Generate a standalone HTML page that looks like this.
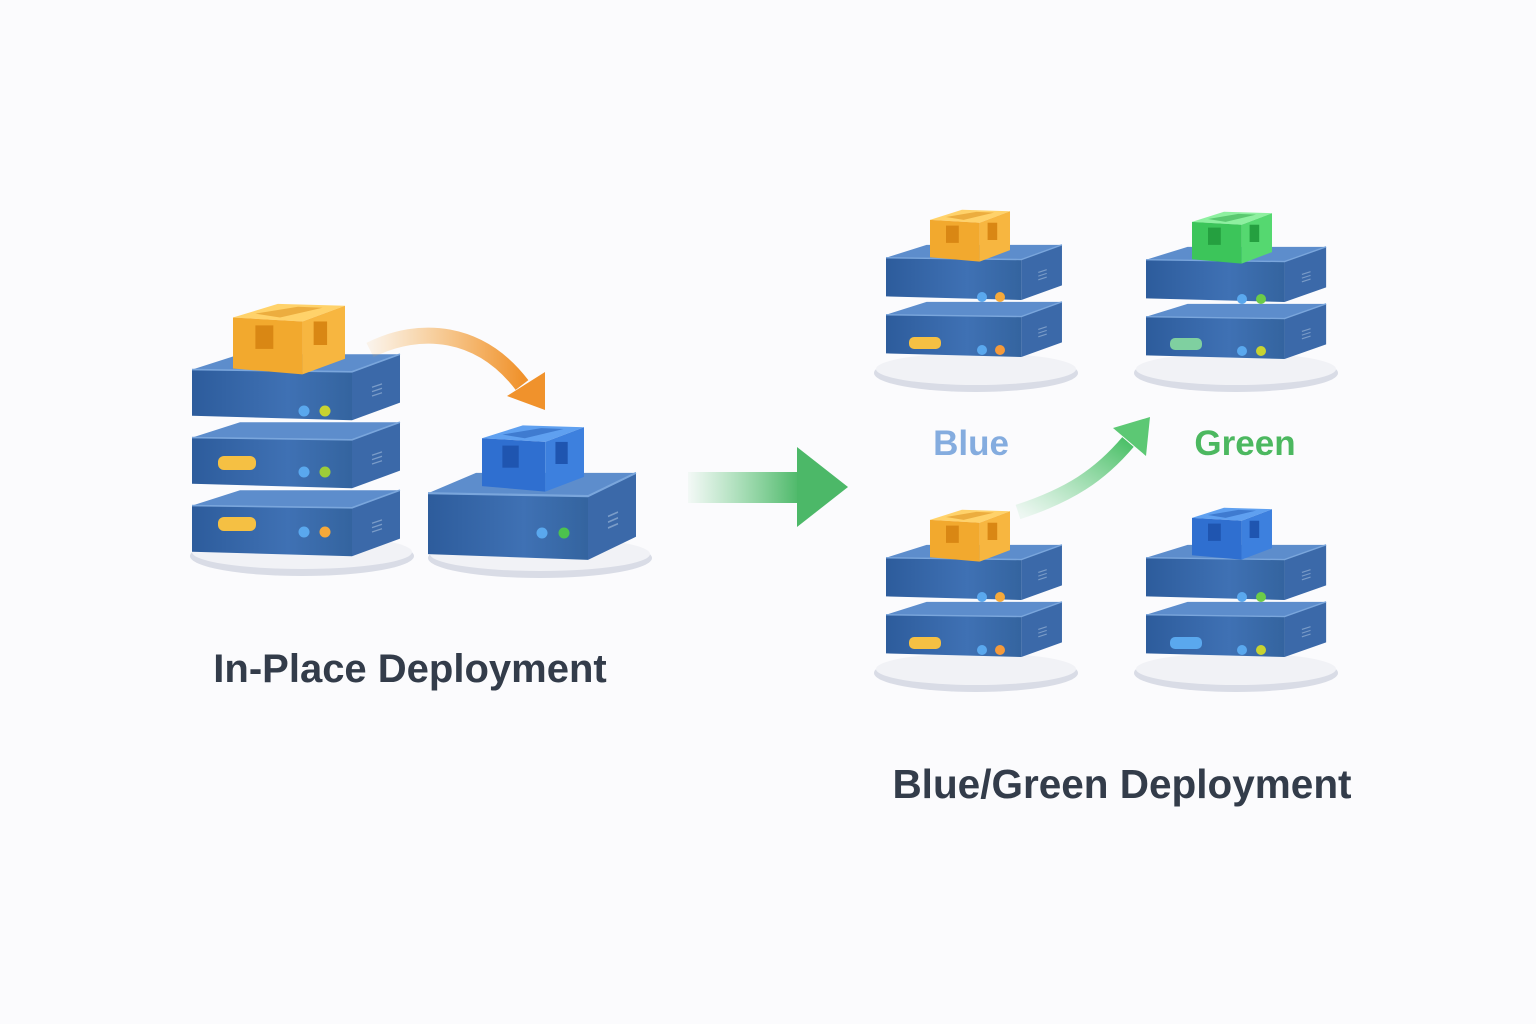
<!DOCTYPE html>
<html><head><meta charset="utf-8"><style>
html,body{margin:0;padding:0;background:#fbfbfd;}
svg{display:block}
text{font-family:"Liberation Sans","DejaVu Sans",sans-serif;font-weight:bold;}
.bt{fill:var(--t)}.bf{fill:var(--f)}.bs{fill:var(--s)}.bd{fill:var(--d)}
.or{--t:#ffd26a;--f:#f2a92e;--s:#f7b640;--d:#d98714}
.bl{--t:#5fa0f0;--f:#2f6fd0;--s:#3d80de;--d:#1f55b0}
.gr{--t:#8ef0a0;--f:#3cc55a;--s:#55d870;--d:#25a040}
</style></head><body>
<svg width="1536" height="1024" viewBox="0 0 1536 1024" xmlns="http://www.w3.org/2000/svg">
<defs>
<linearGradient id="fr" x1="0" x2="1" y1="0" y2="0"><stop offset="0" stop-color="#2d5c9c"/><stop offset="0.6" stop-color="#3f71b4"/><stop offset="1" stop-color="#34649f"/></linearGradient>
<linearGradient id="gA" x1="0" x2="1"><stop offset="0" stop-color="#5fc77a" stop-opacity="0.05"/><stop offset="1" stop-color="#4cb868"/></linearGradient>
<linearGradient id="oA" x1="0" x2="1"><stop offset="0" stop-color="#f5a73c" stop-opacity="0.1"/><stop offset="1" stop-color="#f0922c"/></linearGradient>
<linearGradient id="gA2" x1="0" x2="1" y1="1" y2="0"><stop offset="0" stop-color="#6fd08a" stop-opacity="0.1"/><stop offset="1" stop-color="#4cc068"/></linearGradient>
<g id="unit">
<path d="M0,16 L48,2 L208,2 L160,18 Z" fill="#5d8dcc"/>
<path d="M0,16 L160,18 L160,62 L0,58 Z" fill="url(#fr)"/>
<path d="M160,18 L208,2 L208,46 L160,62 Z" fill="#3b69a9"/>
<path d="M0,16 L160,18 L208,2" fill="none" stroke="#7aa6dc" stroke-width="1.5"/>
<path d="M180,32 l10,-3 M180,36 l10,-3 M180,40 l10,-3" stroke="#7a9cc8" stroke-width="1.2"/>
</g>
<g id="box">
<path class="bt" d="M0,22 L40,8 L100,10 L62,26 Z"/>
<path class="bf" d="M0,22 L62,26 L62,80 L0,74 Z"/>
<path class="bs" d="M62,26 L100,10 L100,64 L62,80 Z"/>
<path class="bd" d="M20,18 L58,11 L80,12 L42,22 Z" opacity="0.5"/>
<rect class="bd" x="20" y="30" width="16" height="24"/>
<rect class="bd" x="72" y="26" width="12" height="24"/>
</g>
</defs>

<ellipse cx="302" cy="556" rx="112" ry="20" fill="#d9dce6"/>
<ellipse cx="302" cy="552" rx="110" ry="17" fill="#f1f2f6"/>
<ellipse cx="540" cy="558" rx="112" ry="20" fill="#d9dce6"/>
<ellipse cx="540" cy="554" rx="110" ry="17" fill="#f1f2f6"/>

<g transform="translate(192,488) scale(1,1.1)"><use href="#unit"/></g>
<g transform="translate(192,420) scale(1,1.1)"><use href="#unit"/></g>
<g transform="translate(192,352) scale(1,1.1)"><use href="#unit"/></g>
<rect x="218" y="456" width="38" height="14" rx="6" fill="#f5c043"/>
<rect x="218" y="517" width="38" height="14" rx="6" fill="#f5c043"/>
<circle cx="304" cy="411" r="5.5" fill="#5aa8ee"/><circle cx="325" cy="411" r="5.5" fill="#c8d330"/>
<circle cx="304" cy="472" r="5.5" fill="#5aa8ee"/><circle cx="325" cy="472" r="5.5" fill="#9ccc3a"/>
<circle cx="304" cy="532" r="5.5" fill="#5aa8ee"/><circle cx="325" cy="532" r="5.5" fill="#f5a93a"/>
<g class="or" transform="translate(233,296) scale(1.12,0.98)"><use href="#box"/></g>

<g transform="translate(428,470) scale(1,1.45)"><use href="#unit"/></g>
<circle cx="542" cy="533" r="5.5" fill="#5aa8ee"/><circle cx="564" cy="533" r="5.5" fill="#4cc24e"/>
<g class="bl" transform="translate(482,418) scale(1.02,0.92)"><use href="#box"/></g>

<path d="M370,350 C420,325 480,330 522,385" fill="none" stroke="url(#oA)" stroke-width="16"/>
<path d="M507,396 L545,372 L545,410 Z" fill="#f0922c"/>

<rect x="688" y="472" width="112" height="31" fill="url(#gA)"/>
<path d="M797,447 L848,487 L797,527 Z" fill="#4cb868"/>

<ellipse cx="976" cy="373" rx="102" ry="19" fill="#d9dce6"/><ellipse cx="976" cy="369" rx="100" ry="16" fill="#f1f2f6"/>
<ellipse cx="1236" cy="373" rx="102" ry="19" fill="#d9dce6"/><ellipse cx="1236" cy="369" rx="100" ry="16" fill="#f1f2f6"/>
<ellipse cx="976" cy="673" rx="102" ry="19" fill="#d9dce6"/><ellipse cx="976" cy="669" rx="100" ry="16" fill="#f1f2f6"/>
<ellipse cx="1236" cy="673" rx="102" ry="19" fill="#d9dce6"/><ellipse cx="1236" cy="669" rx="100" ry="16" fill="#f1f2f6"/>

<g transform="translate(886,300) scale(0.846,0.92)"><use href="#unit"/></g>
<g transform="translate(886,243) scale(0.846,0.92)"><use href="#unit"/></g>
<g transform="translate(1146,302) scale(0.866,0.92)"><use href="#unit"/></g>
<g transform="translate(1146,245) scale(0.866,0.92)"><use href="#unit"/></g>
<g transform="translate(886,600) scale(0.846,0.92)"><use href="#unit"/></g>
<g transform="translate(886,543) scale(0.846,0.92)"><use href="#unit"/></g>
<g transform="translate(1146,600) scale(0.866,0.92)"><use href="#unit"/></g>
<g transform="translate(1146,543) scale(0.866,0.92)"><use href="#unit"/></g>

<rect x="909" y="337" width="32" height="12" rx="5" fill="#f5c043"/>
<rect x="1170" y="338" width="32" height="12" rx="5" fill="#7fd0a0"/>
<rect x="909" y="637" width="32" height="12" rx="5" fill="#f5c043"/>
<rect x="1170" y="637" width="32" height="12" rx="5" fill="#5aa8ee"/>
<circle cx="982" cy="297" r="5" fill="#5aa8ee"/><circle cx="1000" cy="297" r="5" fill="#f5a93a"/>
<circle cx="982" cy="350" r="5" fill="#5aa8ee"/><circle cx="1000" cy="350" r="5" fill="#f59a3a"/>
<circle cx="1242" cy="299" r="5" fill="#5aa8ee"/><circle cx="1261" cy="299" r="5" fill="#6ccc48"/>
<circle cx="1242" cy="351" r="5" fill="#5aa8ee"/><circle cx="1261" cy="351" r="5" fill="#c8d330"/>
<circle cx="982" cy="597" r="5" fill="#5aa8ee"/><circle cx="1000" cy="597" r="5" fill="#f5a93a"/>
<circle cx="982" cy="650" r="5" fill="#5aa8ee"/><circle cx="1000" cy="650" r="5" fill="#f59a3a"/>
<circle cx="1242" cy="597" r="5" fill="#5aa8ee"/><circle cx="1261" cy="597" r="5" fill="#6ccc48"/>
<circle cx="1242" cy="650" r="5" fill="#5aa8ee"/><circle cx="1261" cy="650" r="5" fill="#c8d330"/>

<g class="or" transform="translate(930,204) scale(0.8,0.72)"><use href="#box"/></g>
<g class="gr" transform="translate(1192,206) scale(0.8,0.72)"><use href="#box"/></g>
<g class="or" transform="translate(930,504) scale(0.8,0.72)"><use href="#box"/></g>
<g class="bl" transform="translate(1192,502) scale(0.8,0.72)"><use href="#box"/></g>

<path d="M1018,512 C1070,495 1100,475 1128,442" fill="none" stroke="url(#gA2)" stroke-width="15"/>
<path d="M1113,428 L1150,417 L1146,456 Z" fill="#5cc874"/>

<text x="410" y="682" font-size="40" fill="#333c4a" text-anchor="middle">In-Place Deployment</text>
<text x="971" y="455" font-size="35" fill="#84acdf" text-anchor="middle">Blue</text>
<text x="1245" y="455" font-size="35" fill="#4cb860" text-anchor="middle">Green</text>
<text x="1122" y="798" font-size="40.5" fill="#333c4a" text-anchor="middle">Blue/Green Deployment</text>
</svg>
</body></html>
